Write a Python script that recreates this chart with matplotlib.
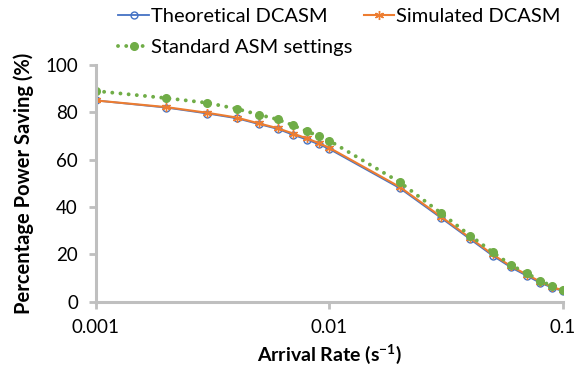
import numpy as np
import matplotlib.pyplot as plt

plt.rcParams['font.family'] = ['Lato', 'DejaVu Sans']
plt.rcParams['mathtext.fontset'] = 'custom'
plt.rcParams['mathtext.rm'] = 'Lato'
plt.rcParams['mathtext.bf'] = 'Lato:bold'

# arrival rates (1/s)
rate = [0.001, 0.002, 0.003, 0.004, 0.005, 0.006, 0.007, 0.008, 0.009,
        0.01, 0.02, 0.03, 0.04, 0.05, 0.06, 0.07, 0.08, 0.09, 0.1]
theoretical = [85, 82, 79.5, 77.5, 75, 73, 70.5, 68.5, 66.5,
               64.5, 48, 35.5, 26.5, 19.5, 14.5, 11, 8, 6, 4.5]
simulated = [85, 82.2, 79.8, 77.8, 75.3, 73.3, 71, 69, 67,
             65, 48.5, 36, 27, 20, 15, 11.5, 8.5, 6.3, 4.8]
standard = [89, 86, 84, 81.5, 79, 77, 74.5, 72, 70,
            68, 50.5, 37.5, 28, 21, 15.5, 12, 9, 6.5, 5]

blue = '#4472c4'
orange = '#ed7d31'
green = '#70ad47'
gray = '#bfbfbf'

fig = plt.figure(figsize=(5.78, 3.69), dpi=100)
ax = fig.add_axes([0.166, 0.182, 0.808, 0.642])

l1, = ax.plot(rate, theoretical, color=blue, lw=1.3, marker='o', ms=5,
              mfc='none', mec=blue, mew=1, label='Theoretical DCASM')
l2, = ax.plot(rate, simulated, color=orange, lw=1.5, marker=(6, 2, 0), ms=6.5,
              mec=orange, mew=1, label='Simulated DCASM')
l3, = ax.plot(rate, standard, color=green, lw=2.8, ls=(0, (0.01, 2.1)),
              dash_capstyle='round', marker='o', ms=5.5, mfc=green, mec=green,
              label='Standard ASM settings')

ax.set_xscale('log')
ax.set_xlim(0.001, 0.1)
ax.set_ylim(0, 100)
ax.set_xticks([0.001, 0.01, 0.1])
ax.set_xticklabels(['0.001', '0.01', '0.1'])
ax.minorticks_off()
ax.set_yticks([0, 20, 40, 60, 80, 100])

for s in ['top', 'right']:
    ax.spines[s].set_visible(False)
for s in ['left', 'bottom']:
    ax.spines[s].set_color(gray)
    ax.spines[s].set_linewidth(2.2)
ax.tick_params(axis='both', color=gray, width=2, length=5, labelsize=13.5,
               labelcolor='black')
ax.tick_params(axis='x', pad=7)
ax.tick_params(axis='y', pad=8)

ax.set_xlabel(r'Arrival Rate (s$^{\mathbf{-1}}$)', fontsize=14, fontweight='bold',
              labelpad=5)
ax.set_ylabel('Percentage Power Saving (%)', fontsize=14.5, fontweight='bold',
              labelpad=8)

fig.legend(handles=[l1, l3, l2], loc='upper left', bbox_to_anchor=(0.205, 0.978),
           ncol=2, frameon=False, fontsize=14.5, handlelength=1.5,
           handletextpad=0.1, columnspacing=0.6, labelspacing=0.7,
           borderaxespad=0, borderpad=0)

fig.savefig('out.png', dpi=100)
